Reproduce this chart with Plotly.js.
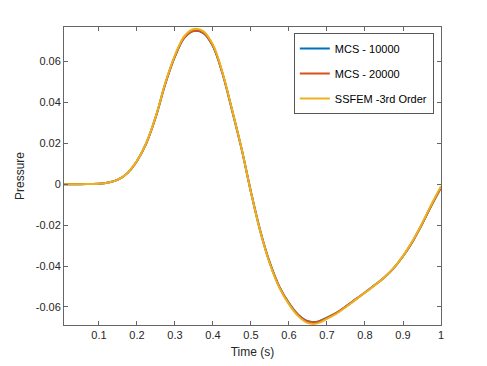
<!DOCTYPE html>
<html>
<head>
<meta charset="utf-8">
<script src="https://cdn.plot.ly/plotly-3.0.1.min.js"></script>
<style>
  html, body { margin: 0; padding: 0; background: #fff; }
  #myDiv { width: 487px; height: 366px; }
</style>
</head>
<body>
<div id="myDiv"></div>
<script>
// time axis (s)
let time = [0.008, 0.025, 0.05, 0.075, 0.1, 0.125, 0.15, 0.175, 0.2, 0.225, 0.25, 0.275, 0.3, 0.325, 0.35,
    0.375, 0.4, 0.425, 0.45, 0.475, 0.5, 0.525, 0.55, 0.575, 0.6, 0.625, 0.65, 0.675, 0.7, 0.725, 0.75,
    0.775, 0.8, 0.825, 0.85, 0.875, 0.9, 0.925, 0.95, 0.975, 1.0];

// pressure
let mcs10000 = [0, 0, 0, 0.0001, 0.0002, 0.0008, 0.0022, 0.0054, 0.0113, 0.0202, 0.0332, 0.0493, 0.0624,
    0.0716, 0.0749, 0.0738, 0.0674, 0.0541, 0.0363, 0.0175, -0.0039, -0.0232, -0.0386, -0.0502, -0.0581,
    -0.0639, -0.0670, -0.0672, -0.0652, -0.0629, -0.0597, -0.0563, -0.0529, -0.0494, -0.0457, -0.0411,
    -0.0352, -0.0281, -0.0196, -0.0103, -0.0017];
let mcs20000 = [0, 0, 0, 0.0001, 0.0002, 0.0008, 0.0022, 0.0054, 0.0113, 0.0202, 0.0332, 0.0494, 0.0625,
    0.0717, 0.0750, 0.0739, 0.0675, 0.0542, 0.0363, 0.0175, -0.0039, -0.0232, -0.0387, -0.0503, -0.0582,
    -0.0640, -0.0671, -0.0673, -0.0653, -0.0629, -0.0597, -0.0563, -0.0529, -0.0494, -0.0457, -0.0411,
    -0.0352, -0.0281, -0.0196, -0.0103, -0.0017];
let ssfem3 = [0, 0, 0, 0.0001, 0.0002, 0.0008, 0.0022, 0.0055, 0.0115, 0.0205, 0.0335, 0.0498, 0.0631,
    0.0724, 0.0758, 0.0747, 0.0681, 0.0546, 0.0366, 0.0176, -0.0040, -0.0235, -0.0391, -0.0507, -0.0587,
    -0.0646, -0.0679, -0.0680, -0.0658, -0.0633, -0.0600, -0.0565, -0.0530, -0.0495, -0.0457, -0.0410,
    -0.0350, -0.0278, -0.0192, -0.0098, -0.0010];

let xTicks = [0.1, 0.2, 0.3, 0.4, 0.5, 0.6, 0.7, 0.8, 0.9, 1];
let xTickText = ['0.1', '0.2', '0.3', '0.4', '0.5', '0.6', '0.7', '0.8', '0.9', '1'];
let yTicks = [-0.06, -0.04, -0.02, 0, 0.02, 0.04, 0.06];
let yTickText = ['-0.06', '-0.04', '-0.02', '0', '0.02', '0.04', '0.06'];

let names = ['MCS - 10000', 'MCS - 20000', 'SSFEM -3rd Order'];
let colors = ['#0072BD', '#D95319', '#EDB120'];
let series = [mcs10000, mcs20000, ssfem3];

let data = series.map((y, i) => ({
    x: time,
    y: y,
    mode: 'lines',
    name: names[i],
    legendgroup: 'g' + i,
    line: { color: colors[i], width: 2, shape: 'spline', smoothing: 1 }
}));

let axisFont = { family: 'Liberation Sans, Arial, sans-serif', size: 11, color: '#262626' };
let titleFont = { family: 'Liberation Sans, Arial, sans-serif', size: 12, color: '#262626' };

let layout = {
    width: 487,
    height: 366,
    margin: { l: 64, r: 46, t: 27, b: 41 },
    paper_bgcolor: '#fff',
    plot_bgcolor: '#fff',
    font: axisFont,
    showlegend: true,
    xaxis: {
        range: [0.008, 1],
        tickvals: xTicks,
        ticktext: xTickText,
        ticks: 'inside',
        ticklen: 4,
        tickcolor: '#666',
        showline: true,
        linecolor: '#666',
        linewidth: 1,
        mirror: 'ticks',
        showgrid: false,
        zeroline: false,
        tickfont: axisFont,
        title: { text: 'Time (s)', font: titleFont, standoff: 7 }
    },
    yaxis: {
        range: [-0.0688, 0.0768],
        tickvals: yTicks,
        ticktext: yTickText,
        ticks: 'inside',
        ticklen: 4,
        tickcolor: '#666',
        showline: true,
        linecolor: '#666',
        linewidth: 1,
        mirror: 'ticks',
        showgrid: false,
        zeroline: false,
        tickfont: axisFont,
        title: { text: 'Pressure', font: titleFont, standoff: 8 }
    },
    legend: {
        x: 0.981,
        y: 0.98,
        xanchor: 'right',
        yanchor: 'top',
        bgcolor: '#fff',
        bordercolor: '#555',
        borderwidth: 1,
        traceorder: 'grouped',
        tracegroupgap: 6,
        itemwidth: 30,
        font: { family: 'Liberation Sans, Arial, sans-serif', size: 11, color: '#000' }
    }
};

Plotly.newPlot('myDiv', data, layout, { displayModeBar: false, staticPlot: true });
</script>
</body>
</html>
